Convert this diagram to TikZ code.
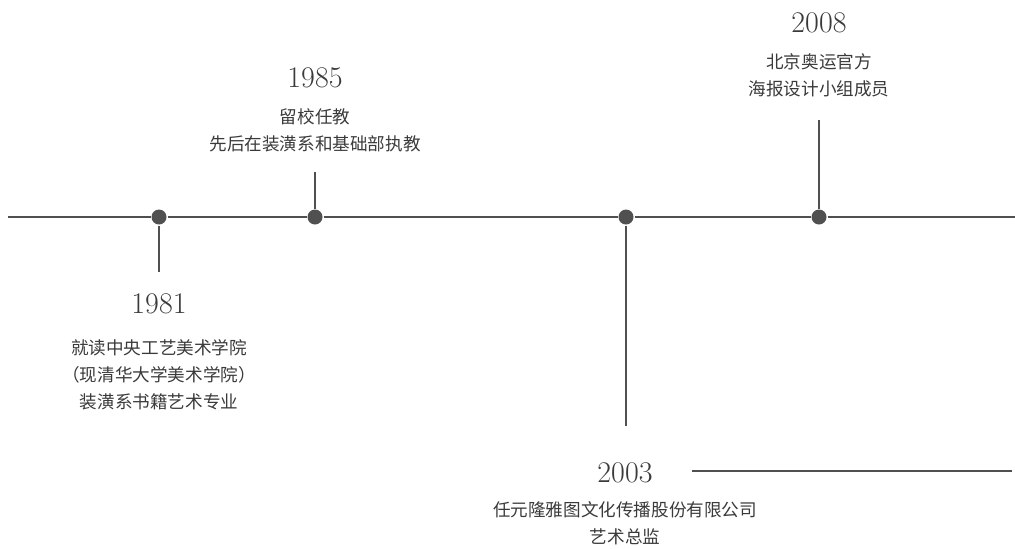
\documentclass[tikz,border=0pt]{standalone}
\usepackage{fontspec}
\newfontfamily\cjk{Noto Sans CJK SC}
\definecolor{linegray}{HTML}{505050}
\definecolor{textgray}{HTML}{3A3A3A}
\begin{document}
\begin{tikzpicture}[x=0.5pt,y=-0.5pt,line width=1pt,color=linegray,line join=round]
  \tikzset{
    dot/.style={circle,fill=linegray,inner sep=0pt,minimum size=7.5pt},
    year/.style={text=textgray,inner sep=0pt,font=\fontsize{15}{15}\selectfont},
    note/.style={text=textgray,align=center,inner sep=0pt,font=\cjk\fontsize{8.8}{13.4}\selectfont},
  }
  \useasboundingbox (0,0) rectangle (1015,548);
  % dots on the time line
  \foreach \name/\x in {y81/159,y85/315,y03/626,y08/819}
    \node[dot] (\name) at (\x,217) {};
  \coordinate (start) at (8,217);
  \coordinate (end) at (1015,217);
  \draw (start) -- (y81) -- (y85) -- (y03) -- (y08) -- (end);
  % stems
  \coordinate (s81) at (159,272);
  \coordinate (s85) at (315,172);
  \coordinate (s03) at (626,426);
  \coordinate (s08) at (819,120);
  \foreach \name in {81,85,03,08}
    \draw (y\name) -- (s\name);
  % years and notes
  \node[year] (t81) at (159,304) {1981};
  \node[note] (n81) at (159,374.5) {就读中央工艺美术学院\\（现清华大学美术学院）\\装潢系书籍艺术专业};
  \node[year] (t85) at (315,78) {1985};
  \node[note] (n85) at (315,130) {留校任教\\先后在装潢系和基础部执教};
  \node[year] (t03) at (625,473) {2003};
  \node[note] (n03) at (625,523.5) {任元隆雅图文化传播股份有限公司\\艺术总监};
  \node[year] (t08) at (819,23) {2008};
  \node[note] (n08) at (819,75) {北京奥运官方\\海报设计小组成员};
  \coordinate (r0) at (692,471);
  \coordinate (r1) at (1012,471);
  \draw (r0) -- (r1);
\end{tikzpicture}
\end{document}
